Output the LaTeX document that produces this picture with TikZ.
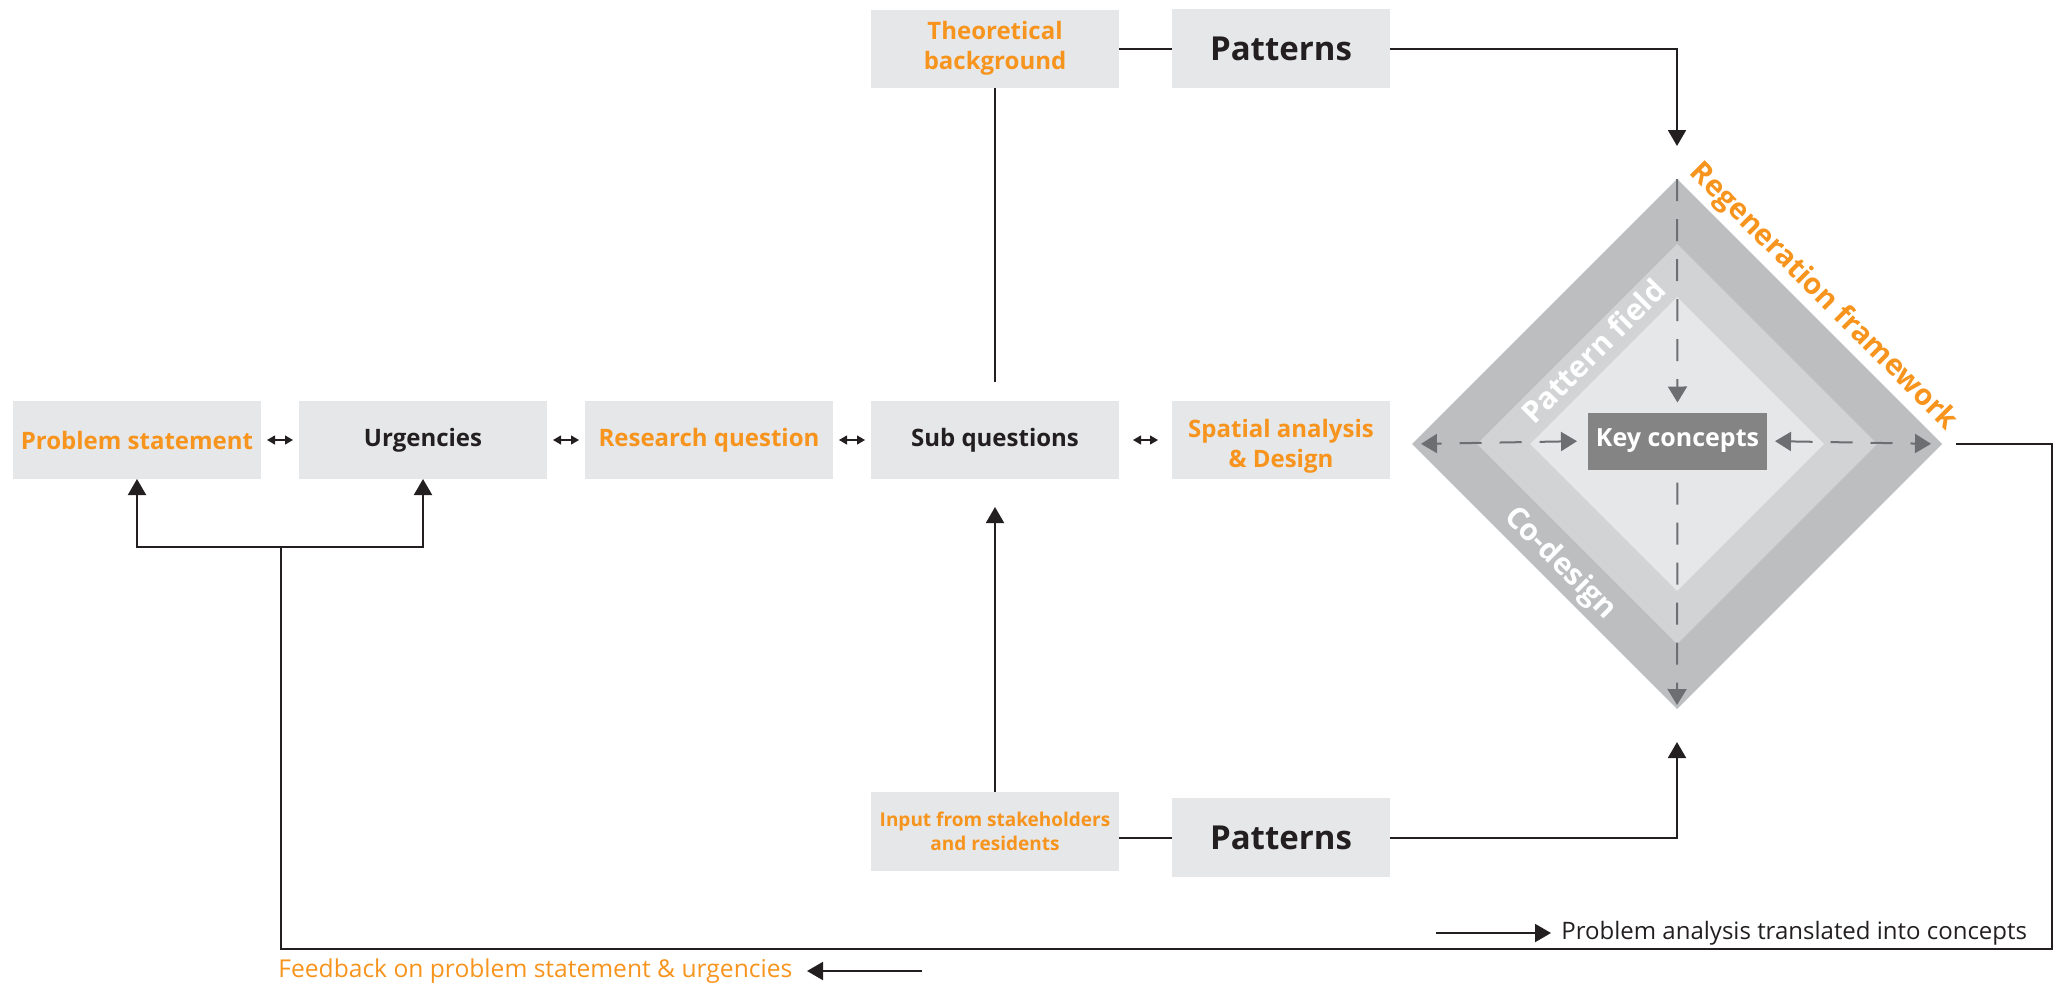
\documentclass[tikz,border=0pt]{standalone}
\usepackage{fontspec}
\setmainfont{Open Sans}
\usetikzlibrary{arrows.meta,calc}
\definecolor{boxgray}{HTML}{E6E7E8}
\definecolor{orng}{HTML}{F7941D}
\definecolor{ink}{HTML}{231F20}
\definecolor{dOuter}{HTML}{BCBEC0}
\definecolor{dMid}{HTML}{D1D3D4}
\definecolor{dInner}{HTML}{E6E7E8}
\definecolor{keygray}{HTML}{848484}
\definecolor{dashgray}{HTML}{6D6E71}
\tikzset{
  box/.style={fill=boxgray, minimum width=124pt, minimum height=39pt, inner sep=0pt, outer sep=0pt,
    align=center, font=\bfseries\fontsize{12}{15}\selectfont},
  pbox/.style={box, minimum width=109pt, minimum height=39.5pt, font=\bfseries\fontsize{16.5}{20}\selectfont, text=ink},
  otxt/.style={text=orng},
  ktxt/.style={text=ink},
  conn/.style={draw=ink, line width=1pt},
  tip/.style={-{Triangle[length=8pt,width=9pt]}},
  dbl/.style={draw=ink, line width=0.6pt, {Triangle[length=4pt,width=4.5pt]}-{Triangle[length=4pt,width=4.5pt]}},
  dasharr/.style={draw=dashgray, line width=1pt, dash pattern=on 11pt off 9pt},
  dtip/.style={-{Triangle[length=8pt,width=9.5pt]}},
  dtips/.style={{Triangle[length=8pt,width=9.5pt]}-{Triangle[length=8pt,width=9.5pt]}},
  dlabel/.style={font=\bfseries\fontsize{15}{18}\selectfont, inner sep=0pt},
  legend/.style={font=\fontsize{12}{14}\selectfont, inner sep=0pt}
}
\begin{document}
\begin{tikzpicture}[x=0.5pt,y=-0.5pt]
\path[use as bounding box] (0,0) rectangle (2067,987);

% diamond
\coordinate (dtop) at (1677,179);
\coordinate (dright) at (1942,444);
\coordinate (dbot) at (1677,709);
\coordinate (dleft) at (1412,444);
\fill[dOuter] (dtop) -- (dright) -- (dbot) -- (dleft) -- cycle;
\fill[dMid] (1677,244) -- (1877,444) -- (1677,644) -- (1477,444) -- cycle;
\fill[dInner] (1677,297) -- (1824,444) -- (1677,591) -- (1530,444) -- cycle;

% boxes
\node[box, otxt] (ps) at (137,440) {Problem statement};
\node[box, ktxt] (urg) at (423,440) {Urgencies};
\node[box, otxt] (rq) at (709,440) {Research question};
\node[box, ktxt] (sq) at (995,440) {Sub questions};
\node[box, otxt, minimum width=109pt] (sa) at (1281,440) {\rule{0pt}{15.5pt}Spatial analysis\\\& Design};
\node[box, otxt] (tb) at (995,48.5) {Theoretical\\background};
\node[pbox] (pat1) at (1281,48.5) {Patterns};
\node[box, otxt, minimum height=39.5pt, font=\bfseries\fontsize{9.5}{12}\selectfont] (inp) at (995,831.5) {Input from stakeholders\\and residents};
\node[pbox] (pat2) at (1281,837.5) {Patterns};
\node[fill=keygray, minimum width=89.5pt, minimum height=28.5pt, inner sep=0pt, outer sep=0pt,
  text=white, font=\bfseries\fontsize{12.5}{15}\selectfont] (key) at (1677.5,441) {Key concepts};

% diamond labels
\node[dlabel, text=orng, rotate=-45, font=\bfseries\fontsize{14.6}{18}\selectfont] (regen) at (1823,297) {Regeneration framework};
\node[dlabel, text=white, rotate=45] (pfield) at (1593,351) {Pattern field};
\node[dlabel, text=white, rotate=-45] (codes) at (1560,564) {Co-design};

% dashed arrows in diamond
\draw[dasharr, dtip, shorten >=5pt] (dtop) -- (key.north);
\draw[dasharr, dtip, shorten <=6.5pt, shorten >=2pt] (key.south) -- (dbot);
\draw[dasharr, dtips, shorten <=5.5pt, shorten >=4.5pt] (key.west) -- (dleft);
\draw[dasharr, dtips, shorten <=4pt, shorten >=5.5pt] (key.east) -- (dright);

% small double arrows
\draw[dbl, shorten <=3pt, shorten >=3pt] (ps) -- (urg);
\draw[dbl, shorten <=3pt, shorten >=3pt] (urg) -- (rq);
\draw[dbl, shorten <=3pt, shorten >=3pt] (rq) -- (sq);
\draw[dbl, shorten <=7pt, shorten >=7pt] (sq) -- (sa);

% connectors
\coordinate (tbend) at (995,382);
\coordinate (sqin) at (995,507);
\coordinate (topin) at (1677,146);
\coordinate (botin) at (1677,742);
\draw[conn] (tb.south) -- (tbend);
\draw[conn] (tb.east |- pat1.west) -- (pat1.west);
\draw[conn, tip] (pat1.east) -| (topin);
\draw[conn] (inp.east |- pat2.west) -- (pat2.west);
\draw[conn, tip] (pat2.east) -| (botin);
\draw[conn, tip] (inp.north) -- (sqin);

% feedback loop
\coordinate (fbstart) at (1956,444);
\coordinate (fbc1) at (2052,949);
\coordinate (fbc2) at (281,949);
\coordinate (junc) at (281,547);
\draw[conn] (fbstart) -| (fbc1) -- (fbc2) -- (junc);
\draw[conn, tip] (junc) -| (ps.south);
\draw[conn, tip] (junc) -| (urg.south);

% legends
\node[legend, anchor=west, text=ink] (lg1) at (1561,933) {Problem analysis translated into concepts};
\coordinate (lg1a) at (1436,933);
\draw[conn, tip, shorten >=5pt] (lg1a) -- (lg1.west);
\node[legend, anchor=west, text=orng, font=\fontsize{12.3}{14}\selectfont] (lg2) at (278,971) {Feedback on problem statement \& urgencies};
\coordinate (lg2a) at (922,971);
\coordinate (lg2b) at (807,971);
\draw[conn, tip] (lg2a) -- (lg2b);
\end{tikzpicture}
\end{document}
